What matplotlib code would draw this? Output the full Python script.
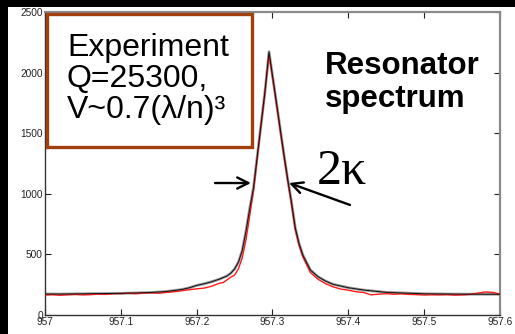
import matplotlib
matplotlib.use("Agg")
import matplotlib.pyplot as plt
from matplotlib.patches import Rectangle

# Wavelength grid (nm) and measured / fitted transmission counts
fit_wl = [957.000, 957.020, 957.040, 957.060, 957.080, 957.100, 957.120, 957.140,
          957.160, 957.180, 957.190, 957.200, 957.210, 957.220, 957.230, 957.240,
          957.245, 957.250, 957.255, 957.260, 957.265, 957.270, 957.275, 957.280,
          957.285, 957.290, 957.2954, 957.300, 957.305, 957.310, 957.315, 957.320,
          957.325, 957.330, 957.335, 957.340, 957.350, 957.360, 957.370, 957.380,
          957.400, 957.420, 957.450, 957.500, 957.550, 957.600]
fit_counts = [173, 173, 174, 176, 177, 179, 182, 186,
              194, 210, 224, 244, 258, 275, 296, 322,
              345, 380, 435, 530, 690, 880, 1052, 1315,
              1578, 1840, 2172, 1975, 1761, 1543, 1328, 1122,
              932, 720, 590, 495, 371, 316, 280, 253,
              225, 206, 187, 175, 172, 171]

meas_wl = [957.000, 957.010, 957.020, 957.030, 957.040, 957.050, 957.060, 957.070,
           957.080, 957.090, 957.100, 957.110, 957.120, 957.130, 957.140, 957.150,
           957.160, 957.170, 957.180, 957.190, 957.200, 957.210, 957.220, 957.225,
           957.230, 957.235, 957.240, 957.245, 957.250, 957.255, 957.260, 957.265,
           957.270, 957.275, 957.280, 957.285, 957.290, 957.2954, 957.300, 957.305,
           957.310, 957.315, 957.320, 957.325, 957.330, 957.335, 957.340, 957.350,
           957.360, 957.370, 957.380, 957.390, 957.400, 957.410, 957.420, 957.430,
           957.440, 957.450, 957.460, 957.470, 957.480, 957.490, 957.500, 957.510,
           957.520, 957.530, 957.540, 957.550, 957.560, 957.570, 957.580, 957.590,
           957.600]
meas_counts = [165, 168, 163, 167, 170, 166, 168, 172,
               170, 176, 176, 180, 176, 181, 183, 180,
               186, 192, 200, 208, 216, 222, 238, 250,
               262, 268, 290, 312, 330, 380, 470, 620,
               820, 1030, 1300, 1570, 1830, 2150, 1960, 1750,
               1530, 1315, 1110, 915, 705, 575, 480, 350,
               295, 258, 232, 214, 205, 192, 186, 166,
               172, 176, 171, 175, 170, 168, 165, 167,
               166, 168, 164, 166, 170, 180, 190, 187,
               172]

x_ticks = [957, 957.1, 957.2, 957.3, 957.4, 957.5, 957.6]
x_tick_labels = ["957", "957.1", "957.2", "957.3", "957.4", "957.5", "957.6"]
y_ticks = [0, 500, 1000, 1500, 2000, 2500]

plt.rcParams["font.family"] = ["Liberation Sans", "DejaVu Sans"]

fig = plt.figure(figsize=(5.15, 3.34), dpi=100, facecolor="white")
# dark frame strips along the left and top edges
fig.patches.append(Rectangle((0, 0), 8 / 515, 1, transform=fig.transFigure,
                             facecolor="black", edgecolor="none", zorder=-5))
fig.patches.append(Rectangle((0, 1 - 7 / 334), 1, 7 / 334, transform=fig.transFigure,
                             facecolor="black", edgecolor="none", zorder=-5))

ax = fig.add_axes([45 / 515, 19 / 334, 455 / 515, 303 / 334])
ax.plot(fit_wl, fit_counts, color="#9a9a9a", lw=2.0, zorder=2)
ax.plot(meas_wl, meas_counts, color="#ff1a1a", lw=1.0, zorder=3)
ax.plot(fit_wl, fit_counts, color="#111111", lw=0.7, zorder=4)

ax.set_xlim(957, 957.6)
ax.set_ylim(0, 2500)
ax.set_xticks(x_ticks)
ax.set_xticklabels(x_tick_labels)
ax.set_yticks(y_ticks)
ax.tick_params(direction="in", length=4, width=0.8, top=True, right=True,
               labelsize=7.3, colors="#222222", pad=1.5)
for side in ("top", "right"):
    ax.spines[side].set_color("#8a8a8a")
    ax.spines[side].set_linewidth(1.6)
for side in ("left", "bottom"):
    ax.spines[side].set_color("#333333")
    ax.spines[side].set_linewidth(1.0)

# annotation box
ax.add_patch(Rectangle((0.004, 0.553), 0.45, 0.44, transform=ax.transAxes,
                       facecolor="white", edgecolor="#a0400f", lw=2.4, zorder=6,
                       clip_on=False))
ax.text(957.029, 1947, "Experiment\nQ=25300,\nV~0.7(\u03bb/n)\u00b3", fontsize=23,
        ha="left", va="center", linespacing=1.06, color="black", zorder=7)

ax.text(957.3692, 1918, "Resonator\nspectrum", fontsize=22.5, fontweight="bold",
        ha="left", va="center", linespacing=1.1, color="black", zorder=7)

ax.text(957.358, 1081, "2\u03ba", fontsize=36, family=["Liberation Serif", "DejaVu Serif"],
        ha="left", va="baseline", color="black", zorder=7)

arrow_style = dict(arrowstyle="->,head_length=0.8,head_width=0.4", color="black",
                   lw=1.7, shrinkA=0, shrinkB=0)
ax.annotate("", xy=(957.2716, 1089), xytext=(957.2242, 1089), arrowprops=arrow_style,
            zorder=8)
ax.annotate("", xy=(957.3218, 1089), xytext=(957.4022, 908), arrowprops=arrow_style,
            zorder=8)

fig.savefig("out.png", dpi=100, facecolor="white")
